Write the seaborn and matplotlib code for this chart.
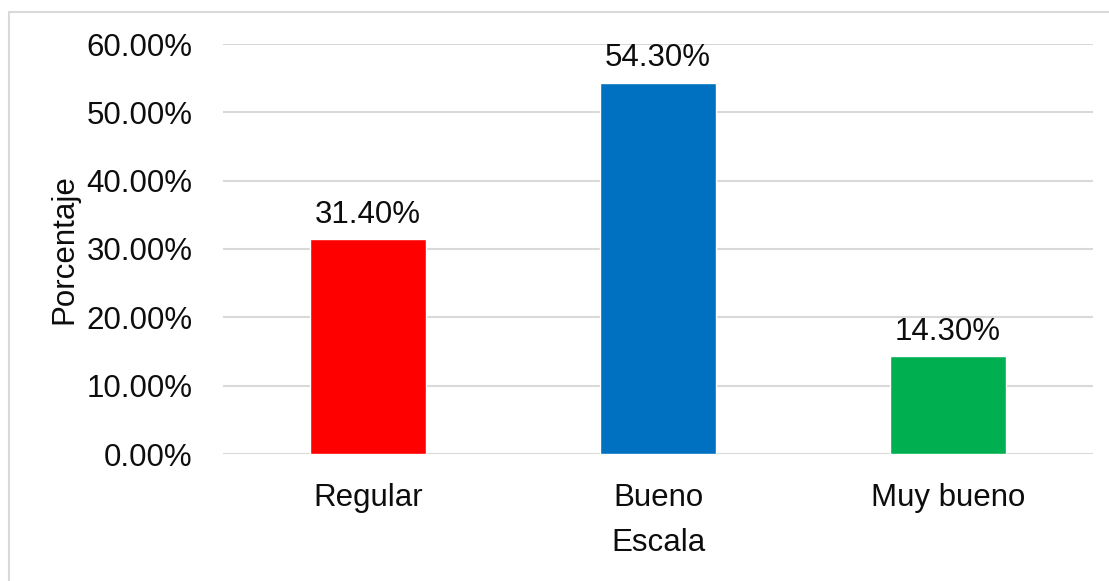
import matplotlib
matplotlib.use("Agg")
import matplotlib.pyplot as plt
from matplotlib.patches import Rectangle
from matplotlib.ticker import FuncFormatter
import seaborn as sns
import pandas as pd

categories = ["Regular", "Bueno", "Muy bueno"]
values = [31.40, 54.30, 14.30]
bar_colors = ["#ff0000", "#0070c0", "#00b050"]
yticks = [0, 10, 20, 30, 40, 50, 60]

sns.set_theme(style="white")
plt.rcParams["font.family"] = ["Liberation Sans", "DejaVu Sans"]

W, H, DPI = 1109, 581, 100
fig = plt.figure(figsize=(W / DPI, H / DPI), dpi=DPI)
fig.patch.set_facecolor("white")

# chart frame (extends beyond the right and bottom edges)
fig.patches.append(Rectangle((8.5 / W, -0.05), 1.2, 1 - 12.5 / H + 0.05,
                             transform=fig.transFigure, fill=False,
                             edgecolor="#d9d9d9", linewidth=1.5, zorder=0))

ax = fig.add_axes([223 / W, 1 - 454 / H, (1093 - 223) / W, (454 - 44) / H])

df = pd.DataFrame({"Escala": categories, "Porcentaje": values})
sns.barplot(data=df, x="Escala", y="Porcentaje", hue="Escala",
            palette=bar_colors, width=0.403, saturation=1, legend=False,
            ax=ax, zorder=3)

ax.set_xlim(-0.5, 2.5)
ax.set_ylim(0, 60)
ax.set_yticks(yticks)
ax.yaxis.set_major_formatter(FuncFormatter(lambda v, _: f"{v:.2f}%"))
ax.grid(axis="y", color="#d9d9d9", linewidth=1.5, zorder=0)
ax.set_axisbelow(True)
for s in ax.spines.values():
    s.set_visible(False)

fs = 22.5
txt = "#0d0d0d"
ax.tick_params(axis="both", length=0, labelsize=fs, labelcolor=txt)
ax.tick_params(axis="y", pad=22)
ax.tick_params(axis="x", pad=21)
ax.set_xlabel("Escala", fontsize=fs, color=txt, labelpad=11)
ax.set_ylabel("Porcentaje", fontsize=fs, color=txt, labelpad=5)

for i, v in enumerate(values):
    ax.annotate(f"{v:.2f}%", (i, v), xytext=(0, 7), textcoords="offset points",
                ha="center", va="bottom", fontsize=fs, color=txt)

fig.savefig("out.png", dpi=DPI, facecolor="white")
